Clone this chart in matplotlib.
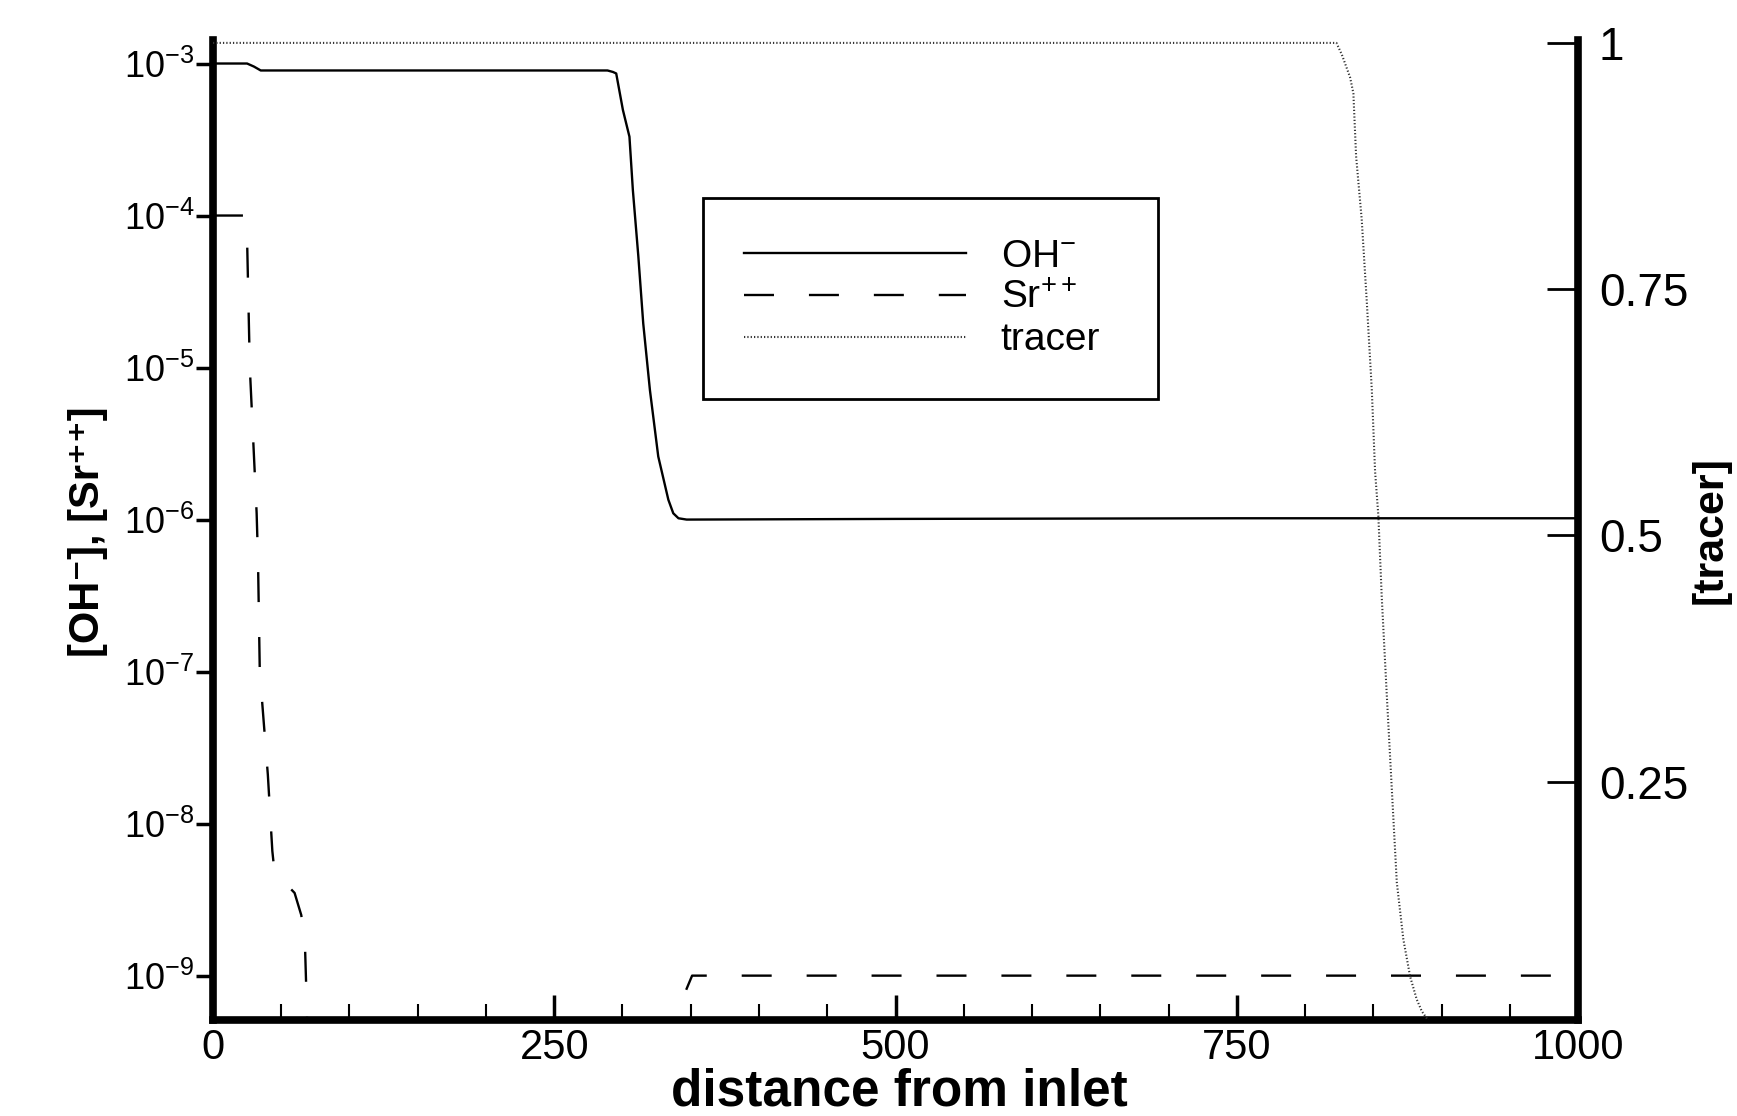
import matplotlib
matplotlib.use('Agg')
import matplotlib.pyplot as plt
from matplotlib.ticker import MultipleLocator, NullLocator

plt.rcParams['font.family'] = ['Liberation Sans', 'DejaVu Sans']
plt.rcParams['mathtext.fontset'] = 'custom'
plt.rcParams['mathtext.rm'] = 'Liberation Sans'
plt.rcParams['mathtext.it'] = 'Liberation Sans:italic'
plt.rcParams['mathtext.bf'] = 'Liberation Sans:bold'

# OH- concentration along the column
dist_oh = [0, 25, 30, 35, 100, 200, 289, 293, 295.4, 300.3, 305.1, 307.6, 311.6,
           315.2, 320.1, 326.2, 333.6, 337.2, 341, 347, 500, 750, 1000]
conc_oh = [1e-3, 1e-3, 9.55e-4, 9.0e-4, 9.0e-4, 9.0e-4, 9.0e-4, 8.8e-4, 8.6e-4,
           4.95e-4, 3.3e-4, 1.47e-4, 5.4e-5, 1.95e-5, 7.1e-6, 2.6e-6, 1.35e-6,
           1.1e-6, 1.02e-6, 1.0e-6, 1.01e-6, 1.02e-6, 1.02e-6]

# Sr++ concentration (drops below the axis between ~70 and ~337)
dist_sr = [0, 24, 25, 27, 32, 33, 34.3, 40.2, 43.5, 45.1, 59.8, 64.7, 67.4, 68.9,
           70, 335, 337, 351, 500, 750, 1000]
conc_sr = [1e-4, 1e-4, 7e-5, 1e-5, 1.1e-6, 5.4e-7, 1.0e-7, 2.1e-8, 6.6e-9, 4.8e-9,
           3.5e-9, 2.5e-9, 1.6e-9, 5.6e-10, 1e-12, 1e-12, 5e-10, 1e-9, 1e-9, 1e-9, 1e-9]

# tracer (right, linear axis)
dist_tr = [0, 823, 827, 833, 835.4, 837.4, 841.5, 845.2, 848.9, 851.3, 853.7, 856.2,
           859.8, 863.5, 867.2, 872, 877, 881.8, 885.5, 892, 1000]
conc_tr = [1, 1, 0.988, 0.965, 0.949, 0.885, 0.821, 0.738, 0.648, 0.565, 0.52, 0.437,
           0.34, 0.244, 0.148, 0.09, 0.052, 0.029, 0.017, 0.004, 0.0]

x_ticks = [0, 250, 500, 750, 1000]
log_ticks = [1e-3, 1e-4, 1e-5, 1e-6, 1e-7, 1e-8, 1e-9]
log_labels = ['$10^{-3}$', '$10^{-4}$', '$10^{-5}$', '$10^{-6}$', '$10^{-7}$', '$10^{-8}$', '$10^{-9}$']
tr_ticks = [0.25, 0.5, 0.75, 1]
tr_labels = ['0.25', '0.5', '0.75', '1']

fig = plt.figure(figsize=(17.37, 11.16), dpi=100)
ax = fig.add_axes([0.1226, 0.086, 0.7859, 0.8782])
ax2 = ax.twinx()

ax.plot(dist_oh, conc_oh, color='k', lw=1.7, label='OH$^{-}$')
ax.plot(dist_sr, conc_sr, color='k', lw=1.7, dashes=(12.7, 14.8), label='Sr$^{++}$')
ax2.plot(dist_tr, conc_tr, color='#333333', lw=1.5, linestyle=(0, (0.6, 1.0)), label='tracer')

ax.set_yscale('log')
ax.set_xlim(0, 1000)
ax.set_ylim(10 ** -9.292, 10 ** -2.845)
ax.set_yticks(log_ticks)
ax.set_yticklabels(log_labels)
ax.yaxis.set_minor_locator(NullLocator())
ax.set_xticks(x_ticks)
ax.set_xticklabels([str(v) for v in x_ticks])
ax.xaxis.set_minor_locator(MultipleLocator(50))
ax.tick_params(axis='x', which='major', direction='in', length=18, width=2.5, labelsize=30, pad=6)
ax.tick_params(axis='x', which='minor', direction='in', length=11.5, width=1.5)
ax.tick_params(axis='y', which='major', direction='out', length=12, width=2.5, labelsize=26, pad=1.5)

ax2.set_ylim(0.008, 1.003)
ax2.set_yticks(tr_ticks)
ax2.set_yticklabels(tr_labels)
ax2.yaxis.set_minor_locator(NullLocator())
ax2.tick_params(axis='y', direction='in', length=22, width=2, labelsize=33, pad=15)

for s in ['top', 'right']:
    ax.spines[s].set_visible(False)
for s in ['left', 'bottom']:
    ax.spines[s].set_linewidth(5.5)
for s in ['top', 'left', 'bottom']:
    ax2.spines[s].set_visible(False)
ax2.spines['right'].set_linewidth(5.5)

h1, l1 = ax.get_legend_handles_labels()
h2, l2 = ax2.get_legend_handles_labels()
leg = ax2.legend(h1 + h2, l1 + l2, loc='upper left', bbox_to_anchor=(0.359, 0.633, 0.333, 0.206),
                 mode='expand', borderaxespad=0, fontsize=28, handlelength=5.7, handletextpad=0.9,
                 borderpad=1.05, labelspacing=0.15, fancybox=False, edgecolor='k', framealpha=1)
leg.get_frame().set_linewidth(2)

fig.text(88 / 1737, 1 - 532 / 1116, '[OH⁻], [Sr⁺⁺]', rotation=90, ha='center', va='center',
         fontsize=30, fontweight='bold')
fig.text(1711 / 1737, 1 - 530 / 1116, '[tracer]', rotation=90, ha='center', va='center',
         fontsize=31, fontweight='bold')
fig.text(0.518, 1 - 1106 / 1116, 'distance from inlet', ha='center', va='baseline',
         fontsize=37, fontweight='bold')

fig.savefig('out.png', dpi=100)
